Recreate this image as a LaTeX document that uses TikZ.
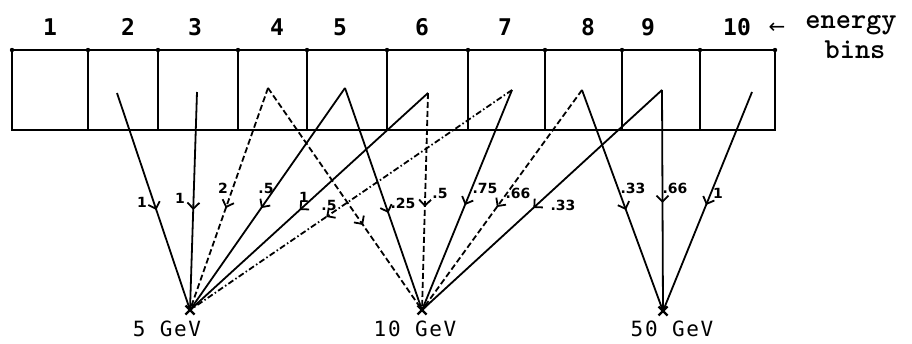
\documentclass[tikz,border=0pt]{standalone}
\usepackage{fontspec}
\usetikzlibrary{arrows.meta,decorations.markings}
\newfontfamily\digfont{DejaVu Sans Mono}
\newfontfamily\gevfont[LetterSpace=8]{DejaVu Sans Mono}
\newfontfamily\arrfont{DejaVu Sans}
\newfontfamily\handfont{DejaVu Sans}
\begin{document}
\begin{tikzpicture}[x=1pt,y=-1pt,
  boxline/.style={line width=2pt},
  link/.style={line width=1.8pt},
  dlink/.style={link,dash pattern=on 6pt off 3pt},
  ddlink/.style={link,dash pattern=on 6pt off 2.5pt on 1.5pt off 2.5pt},
  mk/.style={postaction={decorate},decoration={markings,
     mark=at position #1 with {\arrow{Straight Barb[length=6pt,width=12pt,line width=1.8pt]}}}},
  binno/.style={font=\digfont\bfseries\fontsize{23}{23}\selectfont,anchor=base,inner sep=0pt},
  gev/.style={font=\gevfont\fontsize{21}{21}\selectfont,anchor=base,inner sep=0pt},
  ebtext/.style={font=\ttfamily\bfseries\fontsize{29}{29}\selectfont,anchor=base,inner sep=0pt},
  wt/.style={font=\handfont\bfseries\fontsize{14}{14}\selectfont,inner sep=0pt},
  cross/.style={line width=2.2pt}]
\useasboundingbox (0,0) rectangle (912,343);
% bins box
\draw[boxline] (12,50) rectangle (775,130);
\foreach \x in {88,158,238,307,387,468,545,622,700}
  \draw[boxline] (\x,50) -- (\x,130);
\foreach \x in {12,88,158,238,307,387,468,545,622,700,775}
  \fill (\x,50) circle (2.2pt);
% bin numbers
\node[binno] (n1) at (50,35) {1};
\node[binno] (n2) at (128,35) {2};
\node[binno] (n3) at (195,35) {3};
\node[binno] (n4) at (277,35) {4};
\node[binno] (n5) at (340,35) {5};
\node[binno] (n6) at (422,35) {6};
\node[binno] (n7) at (505,35) {7};
\node[binno] (n8) at (588,35) {8};
\node[binno] (n9) at (648,35) {9};
\node[binno] (n10) at (737,35) {10};
\node[font=\arrfont\fontsize{20}{20}\selectfont,anchor=base,inner sep=0pt] (larr) at (777,33) {←};
\node[ebtext] (eb1) at (851,28) {energy};
\node[ebtext] (eb2) at (855,58) {bins};
% apex points
\coordinate (b2) at (117,93);
\coordinate (b3) at (197,92);
\coordinate (b4) at (268,88);
\coordinate (b5) at (345,88);
\coordinate (b6) at (428,93);
\coordinate (b7) at (512,90);
\coordinate (b8) at (582,90);
\coordinate (b9) at (662,90);
\coordinate (b10) at (752,92);
% targets
\coordinate (g5) at (190,310);
\coordinate (g10) at (422,310);
\coordinate (g50) at (663,311);
% links to 5 GeV
\draw[link,mk=0.539] (b2) -- (g5);
\draw[link,mk=0.541] (b3) -- (g5);
\draw[dlink,mk=0.541] (b4) -- (g5);
\draw[link,mk=0.541] (b5) -- (g5);
\draw[link,mk=0.539] (b6) -- (g5);
\draw[ddlink,mk=0.577] (b7) -- (g5);
% links to 10 GeV
\draw[dlink,mk=0.617] (b4) -- (g10);
\draw[link,mk=0.563] (b5) -- (g10);
\draw[dlink,mk=0.525] (b6) -- (g10);
\draw[link,mk=0.523] (b7) -- (g10);
\draw[dlink,mk=0.532] (b8) -- (g10);
\draw[link,mk=0.536] (b9) -- (g10);
% links to 50 GeV
\draw[link,mk=0.543] (b8) -- (g50);
\draw[link,mk=0.511] (b9) -- (g50);
\draw[link,mk=0.516] (b10) -- (g50);
% crosses
\foreach \g in {g5,g10,g50}{
  \draw[cross] ([shift={(-4.5,-4.5)}]\g) -- ([shift={(4.5,4.5)}]\g);
  \draw[cross] ([shift={(-4.5,4.5)}]\g) -- ([shift={(4.5,-4.5)}]\g);
}
% weights
\node[wt] (w1) at (142,202) {1};
\node[wt] (w2) at (180,198) {1};
\node[wt] (w3) at (223,188) {2};
\node[wt] (w4) at (266,188) {.5};
\node[wt] (w5) at (304,197) {1};
\node[wt] (w6) at (329,205) {.5};
\node[wt] (w7) at (403,203) {.25};
\node[wt] (w8) at (440,193) {.5};
\node[wt] (w9) at (485,188) {.75};
\node[wt] (w10) at (518,193) {.66};
\node[wt] (w11) at (563,205) {.33};
\node[wt] (w12) at (633,188) {.33};
\node[wt] (w13) at (675,188) {.66};
\node[wt] (w14) at (718,193) {1};
% energy labels
\node[gev] (l5) at (167,336) {5 GeV};
\node[gev] (l10) at (415,336) {10 GeV};
\node[gev] (l50) at (672,336) {50 GeV};
\end{tikzpicture}
\end{document}
